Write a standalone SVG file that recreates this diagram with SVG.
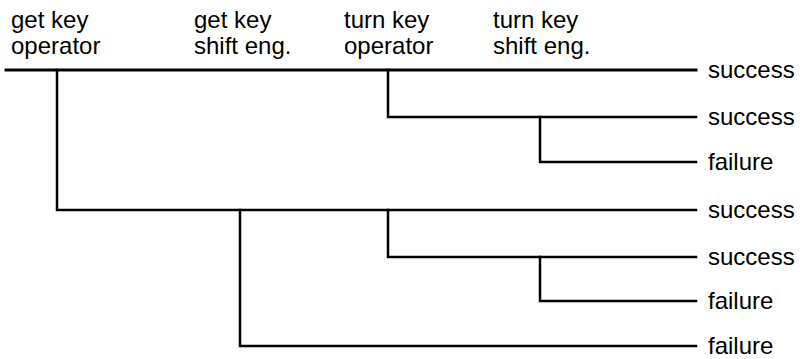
<svg xmlns="http://www.w3.org/2000/svg" width="804" height="359" viewBox="0 0 804 359">
<style>
text{font-family:"Liberation Sans",Arial,sans-serif;font-size:24px;fill:#000}
.br{fill:none;stroke:#000;stroke-width:2.5;stroke-linecap:square;stroke-linejoin:miter}
.main{stroke-width:3}
</style>
<rect width="804" height="359" fill="#fff"/>
<g id="headers">
<g id="h1"><text x="11" y="28">get key</text><text x="11" y="54">operator</text></g>
<g id="h2"><text x="194" y="28">get key</text><text x="194" y="54">shift eng.</text></g>
<g id="h3"><text x="344" y="28">turn key</text><text x="344" y="54">operator</text></g>
<g id="h4"><text x="493" y="28">turn key</text><text x="493" y="54">shift eng.</text></g>
</g>
<g id="connectors">
<path class="br main" d="M6 70H696"/>
<path class="br" d="M57 70V210H696"/>
<path class="br" d="M240 210V346H696"/>
<path class="br" d="M388 70V117H696"/>
<path class="br" d="M540 117V162H696"/>
<path class="br" d="M388 210V257H696"/>
<path class="br" d="M540 257V301H696"/>
</g>
<g id="outcomes">
<g id="o1"><text x="708" y="78">success</text></g>
<g id="o2"><text x="708" y="125">success</text></g>
<g id="o3"><text x="708" y="170">failure</text></g>
<g id="o4"><text x="708" y="218">success</text></g>
<g id="o5"><text x="708" y="265">success</text></g>
<g id="o6"><text x="708" y="309">failure</text></g>
<g id="o7"><text x="708" y="354">failure</text></g>
</g>
</svg>
